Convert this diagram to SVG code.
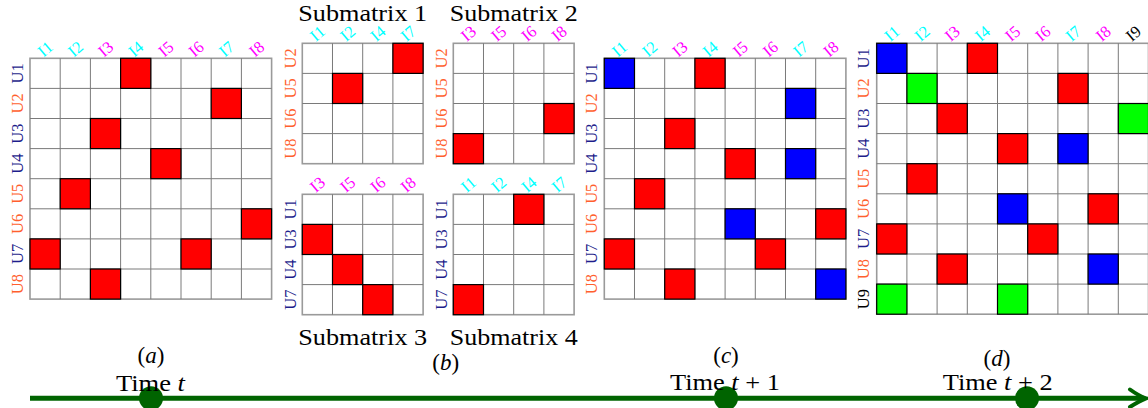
<svg xmlns="http://www.w3.org/2000/svg" xmlns:xlink="http://www.w3.org/1999/xlink" width="1148" height="408" viewBox="0 0 1148 408">
<style>
.cap { font-family: "Liberation Serif", "Times New Roman", serif; font-size: 23px; text-anchor: middle; fill: #000; }
.mx { font-family: "Liberation Serif", "Times New Roman", serif; font-size: 16.5px; text-anchor: middle; }
.c { fill: #00FFFF; }
.m { fill: #FF00FF; }
.n { fill: #1E1E8C; }
.o { fill: #FF5F2E; }
.k { fill: #000; }
.grid { fill: none; stroke: #7A7A7A; stroke-width: 1; }
.frame { fill: none; stroke: #9A9A9A; stroke-width: 1.6; }
.r { fill: #FF0000; stroke: #000; stroke-width: 1.2; }
.b { fill: #0000FF; stroke: #000; stroke-width: 1.2; }
.g { fill: #00FF00; stroke: #000; stroke-width: 1.2; }
.tl { fill: none; stroke: #006400; stroke-width: 5; }
.dot { fill: #006400; }
</style>
<defs>
<g id="grid8">
<rect class="frame" x="0" y="0" width="241.6" height="240.8"/>
<path class="grid" d="M30.2 0V240.8M60.4 0V240.8M90.6 0V240.8M120.8 0V240.8M151 0V240.8M181.2 0V240.8M211.4 0V240.8M0 30.1H241.6M0 60.2H241.6M0 90.3H241.6M0 120.4H241.6M0 150.5H241.6M0 180.6H241.6M0 210.7H241.6"/>
</g>
<g id="grid4">
<rect class="frame" x="0" y="0" width="120.8" height="120.4"/>
<path class="grid" d="M30.2 0V120.4M60.4 0V120.4M90.6 0V120.4M0 30.1H120.8M0 60.2H120.8M0 90.3H120.8"/>
</g>
<g id="grid9">
<rect class="frame" x="0" y="0" width="271.8" height="270.9"/>
<path class="grid" d="M30.2 0V270.9M60.4 0V270.9M90.6 0V270.9M120.8 0V270.9M151 0V270.9M181.2 0V270.9M211.4 0V270.9M241.6 0V270.9M0 30.1H271.8M0 60.2H271.8M0 90.3H271.8M0 120.4H271.8M0 150.5H271.8M0 180.6H271.8M0 210.7H271.8M0 240.8H271.8"/>
</g>
</defs>

<!-- Matrix (a) -->
<g id="matrix-a" class="mx" transform="translate(30,58.3)">
<use xlink:href="#grid8" href="#grid8"/>
<rect class="r" x="90.6" y="0" width="30.2" height="30.1"/>
<rect class="r" x="181.2" y="30.1" width="30.2" height="30.1"/>
<rect class="r" x="60.4" y="60.2" width="30.2" height="30.1"/>
<rect class="r" x="120.8" y="90.3" width="30.2" height="30.1"/>
<rect class="r" x="30.2" y="120.4" width="30.2" height="30.1"/>
<rect class="r" x="211.4" y="150.5" width="30.2" height="30.1"/>
<rect class="r" x="0" y="180.6" width="30.2" height="30.1"/>
<rect class="r" x="151" y="180.6" width="30.2" height="30.1"/>
<rect class="r" x="60.4" y="210.7" width="30.2" height="30.1"/>
<text class="c" transform="translate(15.1,-9.5) rotate(-40)" dy="0.35em">I1</text>
<text class="c" transform="translate(45.3,-9.5) rotate(-40)" dy="0.35em">I2</text>
<text class="m" transform="translate(75.5,-9.5) rotate(-40)" dy="0.35em">I3</text>
<text class="c" transform="translate(105.7,-9.5) rotate(-40)" dy="0.35em">I4</text>
<text class="m" transform="translate(135.9,-9.5) rotate(-40)" dy="0.35em">I5</text>
<text class="m" transform="translate(166.1,-9.5) rotate(-40)" dy="0.35em">I6</text>
<text class="c" transform="translate(196.3,-9.5) rotate(-40)" dy="0.35em">I7</text>
<text class="m" transform="translate(226.5,-9.5) rotate(-40)" dy="0.35em">I8</text>
<text class="n" transform="translate(-13,15.05) rotate(-90)" dy="0.35em">U1</text>
<text class="o" transform="translate(-13,45.15) rotate(-90)" dy="0.35em">U2</text>
<text class="n" transform="translate(-13,75.25) rotate(-90)" dy="0.35em">U3</text>
<text class="n" transform="translate(-13,105.35) rotate(-90)" dy="0.35em">U4</text>
<text class="o" transform="translate(-13,135.45) rotate(-90)" dy="0.35em">U5</text>
<text class="o" transform="translate(-13,165.55) rotate(-90)" dy="0.35em">U6</text>
<text class="n" transform="translate(-13,195.65) rotate(-90)" dy="0.35em">U7</text>
<text class="o" transform="translate(-13,225.75) rotate(-90)" dy="0.35em">U8</text>
</g>

<!-- Submatrix 1 -->
<g id="submatrix-1" class="mx" transform="translate(302.3,43.3)">
<use xlink:href="#grid4" href="#grid4"/>
<rect class="r" x="90.6" y="0" width="30.2" height="30.1"/>
<rect class="r" x="30.2" y="30.1" width="30.2" height="30.1"/>
<text class="c" transform="translate(15.1,-10) rotate(-40)" dy="0.35em">I1</text>
<text class="c" transform="translate(45.3,-10) rotate(-40)" dy="0.35em">I2</text>
<text class="c" transform="translate(75.5,-10) rotate(-40)" dy="0.35em">I4</text>
<text class="c" transform="translate(105.7,-10) rotate(-40)" dy="0.35em">I7</text>
<text class="o" transform="translate(-12.5,15.05) rotate(-90)" dy="0.35em">U2</text>
<text class="o" transform="translate(-12.5,45.15) rotate(-90)" dy="0.35em">U5</text>
<text class="o" transform="translate(-12.5,75.25) rotate(-90)" dy="0.35em">U6</text>
<text class="o" transform="translate(-12.5,105.35) rotate(-90)" dy="0.35em">U8</text>
<text class="cap" x="60.4" y="-22.3" textLength="129" lengthAdjust="spacingAndGlyphs">Submatrix 1</text>
</g>

<!-- Submatrix 2 -->
<g id="submatrix-2" class="mx" transform="translate(453.3,43.3)">
<use xlink:href="#grid4" href="#grid4"/>
<rect class="r" x="90.6" y="60.2" width="30.2" height="30.1"/>
<rect class="r" x="0" y="90.3" width="30.2" height="30.1"/>
<text class="m" transform="translate(15.1,-10) rotate(-40)" dy="0.35em">I3</text>
<text class="m" transform="translate(45.3,-10) rotate(-40)" dy="0.35em">I5</text>
<text class="m" transform="translate(75.5,-10) rotate(-40)" dy="0.35em">I6</text>
<text class="m" transform="translate(105.7,-10) rotate(-40)" dy="0.35em">I8</text>
<text class="o" transform="translate(-12.5,15.05) rotate(-90)" dy="0.35em">U2</text>
<text class="o" transform="translate(-12.5,45.15) rotate(-90)" dy="0.35em">U5</text>
<text class="o" transform="translate(-12.5,75.25) rotate(-90)" dy="0.35em">U6</text>
<text class="o" transform="translate(-12.5,105.35) rotate(-90)" dy="0.35em">U8</text>
<text class="cap" x="60.4" y="-22.3" textLength="128" lengthAdjust="spacingAndGlyphs">Submatrix 2</text>
</g>

<!-- Submatrix 3 -->
<g id="submatrix-3" class="mx" transform="translate(302.3,194.3)">
<use xlink:href="#grid4" href="#grid4"/>
<rect class="r" x="0" y="30.1" width="30.2" height="30.1"/>
<rect class="r" x="30.2" y="60.2" width="30.2" height="30.1"/>
<rect class="r" x="60.4" y="90.3" width="30.2" height="30.1"/>
<text class="m" transform="translate(15.1,-10) rotate(-40)" dy="0.35em">I3</text>
<text class="m" transform="translate(45.3,-10) rotate(-40)" dy="0.35em">I5</text>
<text class="m" transform="translate(75.5,-10) rotate(-40)" dy="0.35em">I6</text>
<text class="m" transform="translate(105.7,-10) rotate(-40)" dy="0.35em">I8</text>
<text class="n" transform="translate(-12.5,15.05) rotate(-90)" dy="0.35em">U1</text>
<text class="n" transform="translate(-12.5,45.15) rotate(-90)" dy="0.35em">U3</text>
<text class="n" transform="translate(-12.5,75.25) rotate(-90)" dy="0.35em">U4</text>
<text class="n" transform="translate(-12.5,105.35) rotate(-90)" dy="0.35em">U7</text>
<text class="cap" x="60.4" y="150.9" textLength="129" lengthAdjust="spacingAndGlyphs">Submatrix 3</text>
</g>

<!-- Submatrix 4 -->
<g id="submatrix-4" class="mx" transform="translate(453.3,194.3)">
<use xlink:href="#grid4" href="#grid4"/>
<rect class="r" x="60.4" y="0" width="30.2" height="30.1"/>
<rect class="r" x="0" y="90.3" width="30.2" height="30.1"/>
<text class="c" transform="translate(15.1,-10) rotate(-40)" dy="0.35em">I1</text>
<text class="c" transform="translate(45.3,-10) rotate(-40)" dy="0.35em">I2</text>
<text class="c" transform="translate(75.5,-10) rotate(-40)" dy="0.35em">I4</text>
<text class="c" transform="translate(105.7,-10) rotate(-40)" dy="0.35em">I7</text>
<text class="n" transform="translate(-12.5,15.05) rotate(-90)" dy="0.35em">U1</text>
<text class="n" transform="translate(-12.5,45.15) rotate(-90)" dy="0.35em">U3</text>
<text class="n" transform="translate(-12.5,75.25) rotate(-90)" dy="0.35em">U4</text>
<text class="n" transform="translate(-12.5,105.35) rotate(-90)" dy="0.35em">U7</text>
<text class="cap" x="60.4" y="150.9" textLength="128" lengthAdjust="spacingAndGlyphs">Submatrix 4</text>
</g>

<!-- Matrix (c) -->
<g id="matrix-c" class="mx" transform="translate(604.3,58.3)">
<use xlink:href="#grid8" href="#grid8"/>
<rect class="b" x="0" y="0" width="30.2" height="30.1"/>
<rect class="r" x="90.6" y="0" width="30.2" height="30.1"/>
<rect class="b" x="181.2" y="30.1" width="30.2" height="30.1"/>
<rect class="r" x="60.4" y="60.2" width="30.2" height="30.1"/>
<rect class="r" x="120.8" y="90.3" width="30.2" height="30.1"/>
<rect class="b" x="181.2" y="90.3" width="30.2" height="30.1"/>
<rect class="r" x="30.2" y="120.4" width="30.2" height="30.1"/>
<rect class="b" x="120.8" y="150.5" width="30.2" height="30.1"/>
<rect class="r" x="211.4" y="150.5" width="30.2" height="30.1"/>
<rect class="r" x="0" y="180.6" width="30.2" height="30.1"/>
<rect class="r" x="151" y="180.6" width="30.2" height="30.1"/>
<rect class="r" x="60.4" y="210.7" width="30.2" height="30.1"/>
<rect class="b" x="211.4" y="210.7" width="30.2" height="30.1"/>
<text class="c" transform="translate(15.1,-9.5) rotate(-40)" dy="0.35em">I1</text>
<text class="c" transform="translate(45.3,-9.5) rotate(-40)" dy="0.35em">I2</text>
<text class="m" transform="translate(75.5,-9.5) rotate(-40)" dy="0.35em">I3</text>
<text class="c" transform="translate(105.7,-9.5) rotate(-40)" dy="0.35em">I4</text>
<text class="m" transform="translate(135.9,-9.5) rotate(-40)" dy="0.35em">I5</text>
<text class="m" transform="translate(166.1,-9.5) rotate(-40)" dy="0.35em">I6</text>
<text class="c" transform="translate(196.3,-9.5) rotate(-40)" dy="0.35em">I7</text>
<text class="m" transform="translate(226.5,-9.5) rotate(-40)" dy="0.35em">I8</text>
<text class="n" transform="translate(-13,15.05) rotate(-90)" dy="0.35em">U1</text>
<text class="o" transform="translate(-13,45.15) rotate(-90)" dy="0.35em">U2</text>
<text class="n" transform="translate(-13,75.25) rotate(-90)" dy="0.35em">U3</text>
<text class="n" transform="translate(-13,105.35) rotate(-90)" dy="0.35em">U4</text>
<text class="o" transform="translate(-13,135.45) rotate(-90)" dy="0.35em">U5</text>
<text class="o" transform="translate(-13,165.55) rotate(-90)" dy="0.35em">U6</text>
<text class="n" transform="translate(-13,195.65) rotate(-90)" dy="0.35em">U7</text>
<text class="o" transform="translate(-13,225.75) rotate(-90)" dy="0.35em">U8</text>
</g>

<!-- Matrix (d) -->
<g id="matrix-d" class="mx" transform="translate(876.7,43.3)">
<use xlink:href="#grid9" href="#grid9"/>
<rect class="b" x="0" y="0" width="30.2" height="30.1"/>
<rect class="r" x="90.6" y="0" width="30.2" height="30.1"/>
<rect class="g" x="30.2" y="30.1" width="30.2" height="30.1"/>
<rect class="r" x="181.2" y="30.1" width="30.2" height="30.1"/>
<rect class="r" x="60.4" y="60.2" width="30.2" height="30.1"/>
<rect class="g" x="241.6" y="60.2" width="30.2" height="30.1"/>
<rect class="r" x="120.8" y="90.3" width="30.2" height="30.1"/>
<rect class="b" x="181.2" y="90.3" width="30.2" height="30.1"/>
<rect class="r" x="30.2" y="120.4" width="30.2" height="30.1"/>
<rect class="b" x="120.8" y="150.5" width="30.2" height="30.1"/>
<rect class="r" x="211.4" y="150.5" width="30.2" height="30.1"/>
<rect class="r" x="0" y="180.6" width="30.2" height="30.1"/>
<rect class="r" x="151" y="180.6" width="30.2" height="30.1"/>
<rect class="r" x="60.4" y="210.7" width="30.2" height="30.1"/>
<rect class="b" x="211.4" y="210.7" width="30.2" height="30.1"/>
<rect class="g" x="0" y="240.8" width="30.2" height="30.1"/>
<rect class="g" x="120.8" y="240.8" width="30.2" height="30.1"/>
<text class="c" transform="translate(15.1,-10) rotate(-40)" dy="0.35em">I1</text>
<text class="c" transform="translate(45.3,-10) rotate(-40)" dy="0.35em">I2</text>
<text class="m" transform="translate(75.5,-10) rotate(-40)" dy="0.35em">I3</text>
<text class="c" transform="translate(105.7,-10) rotate(-40)" dy="0.35em">I4</text>
<text class="m" transform="translate(135.9,-10) rotate(-40)" dy="0.35em">I5</text>
<text class="m" transform="translate(166.1,-10) rotate(-40)" dy="0.35em">I6</text>
<text class="c" transform="translate(196.3,-10) rotate(-40)" dy="0.35em">I7</text>
<text class="m" transform="translate(226.5,-10) rotate(-40)" dy="0.35em">I8</text>
<text class="k" transform="translate(256.7,-10) rotate(-40)" dy="0.35em">I9</text>
<text class="n" transform="translate(-13.5,15.05) rotate(-90)" dy="0.35em">U1</text>
<text class="o" transform="translate(-13.5,45.15) rotate(-90)" dy="0.35em">U2</text>
<text class="n" transform="translate(-13.5,75.25) rotate(-90)" dy="0.35em">U3</text>
<text class="n" transform="translate(-13.5,105.35) rotate(-90)" dy="0.35em">U4</text>
<text class="o" transform="translate(-13.5,135.45) rotate(-90)" dy="0.35em">U5</text>
<text class="o" transform="translate(-13.5,165.55) rotate(-90)" dy="0.35em">U6</text>
<text class="n" transform="translate(-13.5,195.65) rotate(-90)" dy="0.35em">U7</text>
<text class="o" transform="translate(-13.5,225.75) rotate(-90)" dy="0.35em">U8</text>
<text class="k" transform="translate(-13.5,255.85) rotate(-90)" dy="0.35em">U9</text>
</g>

<!-- Captions -->
<g id="captions">
<text class="cap" x="151" y="363">(<tspan font-style="italic">a</tspan>)</text>
<text class="cap" x="445.7" y="369.5">(<tspan font-style="italic">b</tspan>)</text>
<text class="cap" x="726" y="363">(<tspan font-style="italic">c</tspan>)</text>
<text class="cap" x="997" y="366">(<tspan font-style="italic">d</tspan>)</text>
</g>

<!-- Connectors: timeline -->
<g id="connectors">
<path class="tl" d="M30 398.3H1144"/>
<path d="M1130 389.5Q1139 396 1146 398.3Q1139 401 1130 407" fill="none" stroke="#006400" stroke-width="4" stroke-linecap="round"/>
</g>

<!-- Time markers -->
<g id="time-t">
<circle class="dot" cx="151" cy="398.3" r="12"/>
<text class="cap" x="150.5" y="391" textLength="69" lengthAdjust="spacingAndGlyphs">Time <tspan font-style="italic">t</tspan></text>
</g>
<g id="time-t1">
<circle class="dot" cx="726" cy="398.3" r="12"/>
<text class="cap" x="725" y="390" textLength="110" lengthAdjust="spacingAndGlyphs">Time <tspan font-style="italic">t</tspan> + 1</text>
</g>
<g id="time-t2">
<circle class="dot" cx="1027" cy="398.3" r="12"/>
<text class="cap" x="997.7" y="390" textLength="110" lengthAdjust="spacingAndGlyphs">Time <tspan font-style="italic">t</tspan> + 2</text>
</g>
</svg>
